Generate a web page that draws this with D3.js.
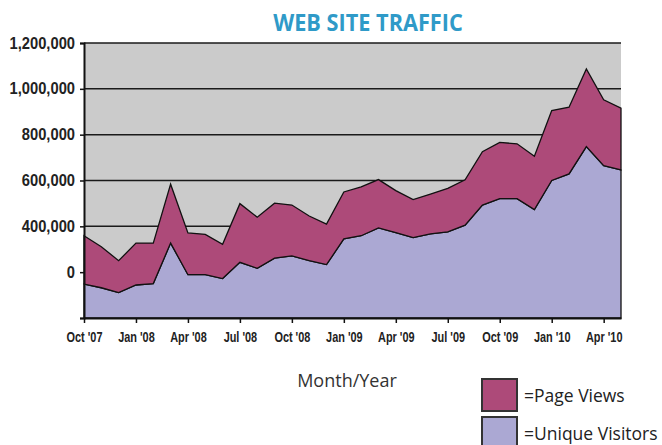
<!DOCTYPE html>
<html>
<head>
<meta charset="utf-8">
<script src="https://cdn.jsdelivr.net/npm/d3@7"></script>
<style>
  body { margin: 0; background: #fff; }
</style>
</head>
<body>
<div id="container"></div>
<script>
/* web site traffic, stacked area: unique visitors + page views */

const months = ["Oct '07","Nov '07","Dec '07","Jan '08","Feb '08","Mar '08","Apr '08","May '08","Jun '08",
  "Jul '08","Aug '08","Sep '08","Oct '08","Nov '08","Dec '08","Jan '09","Feb '09","Mar '09","Apr '09",
  "May '09","Jun '09","Jul '09","Aug '09","Sep '09","Oct '09","Nov '09","Dec '09","Jan '10","Feb '10",
  "Mar '10","Apr '10","May '10"]

const uniqueVisitors = [148000,132000,111000,144000,150000,327000,189000,189000,172000,243000,217000,261000,
  271000,250000,233000,345000,359000,393000,373000,351000,367000,376000,405000,493000,521000,521000,
  473000,600000,629000,748000,665000,646000]

const pageViews = [211000,179000,139000,183000,177000,257000,182000,176000,150000,256000,223000,240000,
  222000,195000,177000,205000,213000,211000,183000,166000,174000,190000,198000,233000,245000,239000,
  233000,305000,291000,339000,287000,270000]

const xTicks = ["Oct '07","Jan '08","Apr '08","Jul '08","Oct '08","Jan '09","Apr '09","Jul '09","Oct '09","Jan '10","Apr '10"]
const yTickValues = [0,200000,400000,600000,800000,1000000,1200000]
const yTickLabels = ["","0","400,000","600,000","800,000","1,000,000","1,200,000"]

const margin = { top: 43, right: 41, bottom: 127, left: 84 }
const width = 662 - margin.left - margin.right
const height = 445 - margin.top - margin.bottom

// no condensed face installed, so squeeze Liberation Sans horizontally
const axisFont = "'Liberation Sans',Arial,sans-serif"
const ySqueeze = 0.92
const xSqueeze = 0.78

const root = d3.select("#container")
  .append("svg")
  .attr("width", 662)
  .attr("height", 445)
  .style("display", "block")

root.append("text")
  .attr("transform", "translate(368, 31) scale(0.905, 1)")
  .attr("text-anchor", "middle")
  .style("font-family", "'Open Sans',sans-serif")
  .style("font-weight", "bold")
  .style("font-size", "24px")
  .style("fill", "#2f9ac8")
  .text("WEB SITE TRAFFIC")

const svg = root.append("g")
  .attr("transform", `translate(${margin.left}, ${margin.top})`)

const xScale = d3.scalePoint()
  .domain(months)
  .range([0, width])

const yScale = d3.scaleLinear()
  .domain([0, 1200000])
  .range([height, 0])

// gray plot background
svg.append("rect")
  .attr("width", width)
  .attr("height", height)
  .attr("fill", "#cbcbcb")

// gridlines
svg.append("g")
  .selectAll("line")
  .data(yTickValues.slice(1))
  .join("line")
  .attr("x1", 0)
  .attr("x2", width)
  .attr("y1", d => yScale(d))
  .attr("y2", d => yScale(d))
  .attr("stroke", "#1a1a1a")
  .attr("stroke-width", 1.5)

const data = months.map((m, i) => ({ month: m, visitors: uniqueVisitors[i], views: pageViews[i] }))
const stacked = d3.stack().keys(["visitors", "views"])(data)
const colors = { visitors: "#aba8d3", views: "#ad4a79" }

const area = d3.area()
  .x(d => xScale(d.data.month))
  .y0(d => yScale(d[0]))
  .y1(d => yScale(d[1]))

svg.append("g")
  .selectAll("path")
  .data(stacked)
  .join("path")
  .attr("d", area)
  .attr("fill", d => colors[d.key])
  .attr("stroke", "#111")
  .attr("stroke-width", 1.3)

// y axis
const yAxis = svg.append("g")
  .call(d3.axisLeft(yScale)
    .tickValues(yTickValues)
    .tickFormat((d, i) => yTickLabels[i])
    .tickSize(4)
    .tickPadding(5))
yAxis.select(".domain").attr("stroke", "#111").attr("stroke-width", 2)
yAxis.selectAll(".tick line").attr("stroke", "#111").attr("stroke-width", 1.5)
yAxis.selectAll("text")
  .attr("x", -9 / ySqueeze)
  .attr("transform", `scale(${ySqueeze}, 1)`)
  .style("font-family", axisFont)
  .style("font-weight", "bold")
  .style("font-size", "16px")
  .style("fill", "#222")

// x axis
const xAxis = svg.append("g")
  .attr("transform", `translate(0, ${height})`)
  .call(d3.axisBottom(xScale)
    .tickValues(xTicks)
    .tickSize(5)
    .tickSizeOuter(0)
    .tickPadding(9))
xAxis.select(".domain").attr("stroke", "#111").attr("stroke-width", 2)
xAxis.selectAll(".tick line").attr("stroke", "#111").attr("stroke-width", 1.5)
xAxis.selectAll("text")
  .attr("transform", `scale(${xSqueeze}, 1)`)
  .style("font-family", axisFont)
  .style("font-weight", "bold")
  .style("font-size", "14px")
  .style("fill", "#222")

root.append("text")
  .attr("x", 347)
  .attr("y", 387)
  .attr("text-anchor", "middle")
  .style("font-family", "'Open Sans',sans-serif")
  .style("font-size", "18px")
  .style("fill", "#333")
  .text("Month/Year")

// legend
const legendItems = [
  { key: "views", label: "=Page Views" },
  { key: "visitors", label: "=Unique Visitors" }
]
const legend = root.append("g")
  .selectAll("g")
  .data(legendItems)
  .join("g")
  .attr("transform", (d, i) => `translate(482, ${379 + i * 38})`)

legend.append("rect")
  .attr("width", 35)
  .attr("height", 32)
  .attr("fill", d => colors[d.key])
  .attr("stroke", "#333")
  .attr("stroke-width", 2)

legend.append("text")
  .attr("x", 42)
  .attr("y", 23)
  .style("font-family", "'Open Sans',sans-serif")
  .style("font-size", "17.5px")
  .style("fill", "#222")
  .text(d => d.label)
</script>
</body>
</html>
